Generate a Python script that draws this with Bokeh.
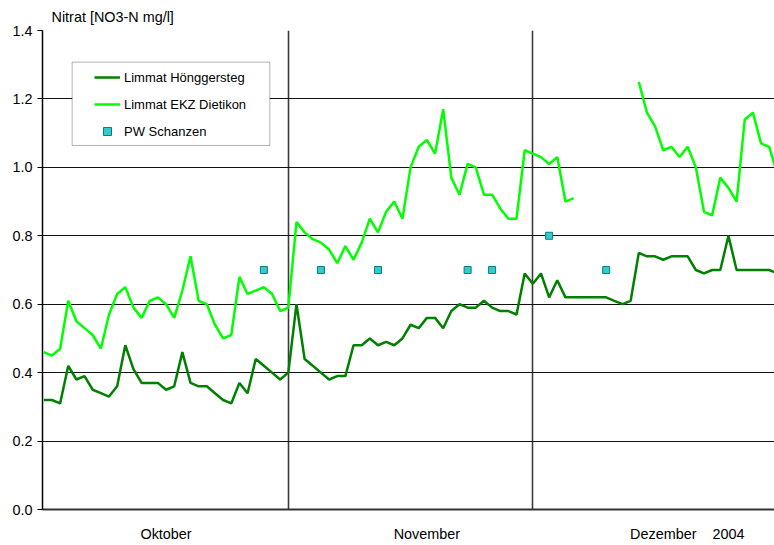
from bokeh.plotting import figure
from bokeh.models import (Range1d, FixedTicker, PrintfTickFormatter, Legend, LegendItem,
                          BoxAnnotation, ColumnDataSource)
from bokeh.embed import file_html
from bokeh.resources import INLINE

NAN = float("nan")

# day index (one point per day, 0 = start of October series)
tage = list(range(91))

hoenggersteg = [0.32, 0.32, 0.31, 0.42, 0.38, 0.39, 0.35, 0.34, 0.33, 0.36,
                0.48, 0.41, 0.37, 0.37, 0.37, 0.35, 0.36, 0.46, 0.37, 0.36,
                0.36, 0.34, 0.32, 0.31, 0.37, 0.34, 0.44, 0.42, 0.40, 0.38,
                0.40, 0.60, 0.44, 0.42, 0.40, 0.38, 0.39, 0.39, 0.48, 0.48,
                0.50, 0.48, 0.49, 0.48, 0.50, 0.54, 0.53, 0.56, 0.56, 0.53,
                0.58, 0.60, 0.59, 0.59, 0.61, 0.59, 0.58, 0.58, 0.57, 0.69,
                0.66, 0.69, 0.62, 0.67, 0.62, 0.62, 0.62, 0.62, 0.62, 0.62,
                0.61, 0.60, 0.61, 0.75, 0.74, 0.74, 0.73, 0.74, 0.74, 0.74,
                0.70, 0.69, 0.70, 0.70, 0.80, 0.70, 0.70, 0.70, 0.70, 0.70,
                0.69]

dietikon = [0.46, 0.45, 0.47, 0.61, 0.55, 0.53, 0.51, 0.47, 0.57, 0.63,
            0.65, 0.59, 0.56, 0.61, 0.62, 0.60, 0.56, 0.64, 0.74, 0.61,
            0.60, 0.54, 0.50, 0.51, 0.68, 0.63, 0.64, 0.65, 0.63, 0.58,
            0.59, 0.84, 0.81, 0.79, 0.78, 0.76, 0.72, 0.77, 0.73, 0.78,
            0.85, 0.81, 0.87, 0.90, 0.85, 1.00, 1.06, 1.08, 1.04, 1.17,
            0.97, 0.92, 1.01, 1.00, 0.92, 0.92, 0.88, 0.85, 0.85, 1.05,
            1.04, 1.03, 1.01, 1.03, 0.90, 0.91, NAN, NAN, NAN, NAN,
            NAN, NAN, NAN, 1.25, 1.16, 1.12, 1.05, 1.06, 1.03, 1.06,
            1.00, 0.87, 0.86, 0.97, 0.94, 0.90, 1.14, 1.16, 1.07, 1.06,
            0.98]

pw_tage = [27, 34, 41, 52, 55, 62, 69]
pw_schanzen = [0.70, 0.70, 0.70, 0.70, 0.70, 0.80, 0.70]

monat_grenzen = [30, 60]
x_labels = ["Oktober", "November", "Dezember", "2004"]
x_label_pos = [15, 47, 76, 84]
y_ticks = [0.0, 0.2, 0.4, 0.6, 0.8, 1.0, 1.2, 1.4]

FONT = "Liberation Sans"

p = figure(width=774, height=545, output_backend="svg", toolbar_location=None,
           x_range=Range1d(-0.16, 89.65), y_range=Range1d(0, 1.4),
           min_border_left=42, min_border_right=0, min_border_top=30, min_border_bottom=36,
           background_fill_color="white", border_fill_color="white")
p.outline_line_color = None

p.title.text = "Nitrat [NO3-N mg/l]"
p.title.text_font = FONT
p.title.text_font_size = "14.4px"
p.title.text_font_style = "normal"
p.title.text_color = "black"
p.title.align = "left"
p.title.vertical_align = "middle"
p.title.offset = 9
p.title.standoff = 10

# axes
p.yaxis.ticker = FixedTicker(ticks=y_ticks)
p.yaxis.formatter = PrintfTickFormatter(format="%.1f")
p.yaxis.major_tick_out = 5
p.yaxis.major_tick_in = 0
p.yaxis.minor_tick_out = 0
p.yaxis.minor_tick_in = 0
p.yaxis.major_label_standoff = 5
p.yaxis.axis_line_color = "black"
p.yaxis.axis_line_width = 1.5
p.yaxis.major_tick_line_color = "black"

p.xaxis.ticker = FixedTicker(ticks=x_label_pos)
p.xaxis.major_label_overrides = {pos: lab for pos, lab in zip(x_label_pos, x_labels)}
p.xaxis.major_tick_out = 0
p.xaxis.major_tick_in = 0
p.xaxis.minor_tick_out = 0
p.xaxis.minor_tick_in = 0
p.xaxis.major_label_standoff = 16
p.xaxis.axis_line_color = "#333333"
p.xaxis.axis_line_width = 2

for ax in (p.xaxis, p.yaxis):
    ax.major_label_text_font = FONT
    ax.major_label_text_font_size = "14.4px"
    ax.major_label_text_color = "black"

# grids
p.ygrid.ticker = FixedTicker(ticks=y_ticks)
p.ygrid.grid_line_color = "#111111"
p.ygrid.grid_line_width = 1
p.xgrid.ticker = FixedTicker(ticks=monat_grenzen)
p.xgrid.grid_line_color = "#3a3a3a"
p.xgrid.grid_line_width = 1.6

src = ColumnDataSource(dict(tag=tage, hoeng=hoenggersteg, diet=dietikon))
r1 = p.line("tag", "hoeng", source=src, line_color="#008000", line_width=2.5)
r2 = p.line("tag", "diet", source=src, line_color="#00FF00", line_width=2.5)
r3 = p.scatter(pw_tage, pw_schanzen, marker="square", size=7,
               fill_color="#33CCCC", line_color="#008080", line_width=1)

# legend frame (white box with black border)
box = BoxAnnotation(left=3.48, right=27.73, top=1.3075, bottom=1.064,
                    fill_color="white", fill_alpha=1.0,
                    line_color="black", line_width=1, level="annotation")
p.add_layout(box)

legend = Legend(items=[LegendItem(label="Limmat Hönggersteg", renderers=[r1]),
                       LegendItem(label="Limmat EKZ Dietikon", renderers=[r2]),
                       LegendItem(label="PW Schanzen", renderers=[r3])],
                location=(52, 368), padding=0, margin=0, spacing=7,
                glyph_width=26, glyph_height=20, label_height=20,
                label_standoff=4, label_text_font=FONT, label_text_font_size="13px",
                label_text_color="black", border_line_alpha=0,
                background_fill_alpha=0)
p.add_layout(legend)

open("out.html", "w").write(file_html(p, INLINE))
